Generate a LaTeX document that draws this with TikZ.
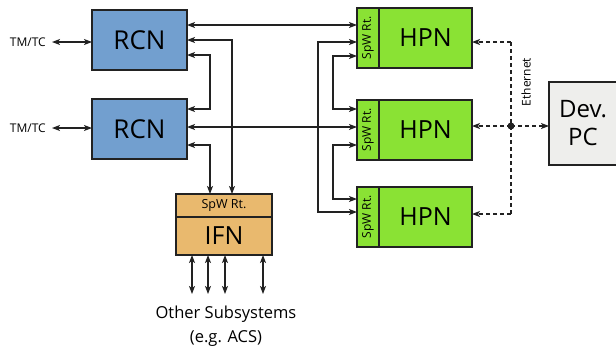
\documentclass[tikz,border=0pt]{standalone}
\usepackage{fontspec}
\setmainfont{Open Sans}
\usetikzlibrary{arrows.meta,calc}

\definecolor{rcnblue}{HTML}{729FCF}
\definecolor{hpngreen}{HTML}{8AE234}
\definecolor{ifnorange}{HTML}{E9B96E}
\definecolor{pcgrey}{HTML}{EEEEEC}
\definecolor{edge}{HTML}{222222}

\tikzset{
  tip/.tip={Stealth[length=8pt,width=6pt,inset=2pt]},
  box/.style={draw=edge, line width=1.3pt, inner sep=0pt, outer sep=0pt},
  rcnbox/.style={box, fill=rcnblue, minimum width=95pt, minimum height=60pt, font=\fontsize{26}{26}\selectfont},
  hpnbox/.style={box, fill=hpngreen, minimum width=93pt, minimum height=60pt, font=\fontsize{25}{25}\selectfont},
  routerstrip/.style={box, fill=hpngreen, minimum width=22pt, minimum height=60pt},
  routerlabel/.style={rotate=90, font=\fontsize{12}{12}\selectfont},
  link/.style={draw=edge, line width=1.2pt, tip-tip},
  eth/.style={draw=edge, line width=1.2pt, dash pattern=on 4pt off 3pt},
  ethto/.style={eth, -tip},
  small/.style={font=\fontsize{12}{12}\selectfont},
}

\begin{document}
\begin{tikzpicture}[x=1pt,y=-1pt]
  \useasboundingbox (0,0) rectangle (616,354);

  % RCN nodes with their TM/TC links
  \node[rcnbox] (rcn1) at (139.5,40) {RCN};
  \node[rcnbox] (rcn2) at (139.5,129) {RCN};
  \node[small, anchor=east, inner sep=0pt] (tm1) at (46,42) {TM/TC};
  \node[small, anchor=east, inner sep=0pt] (tm2) at (46,128) {TM/TC};
  \draw[link] ([xshift=6pt]tm1.east) -- (rcn1.west |- tm1.east);
  \draw[link] ([xshift=6pt]tm2.east) -- (rcn2.west |- tm2.east);

  % HPN nodes, each with a SpaceWire router strip
  \foreach \n/\y in {1/38, 2/130, 3/217}{
    \node[routerstrip] (sw\n) at (368,\y) {};
    \node[routerlabel] at (sw\n) {SpW Rt.};
    \node[hpnbox, anchor=west] (hpn\n) at (sw\n.east) {HPN};
  }

  % IFN with its router header
  \node[box, fill=ifnorange, minimum width=96pt, minimum height=23pt, font=\fontsize{12.5}{12.5}\selectfont] (ifnsw) at (224,205.5) {SpW Rt.};
  \node[box, fill=ifnorange, minimum width=96pt, minimum height=38pt, anchor=north, font=\fontsize{25}{25}\selectfont] (ifn) at (ifnsw.south) {IFN};

  % Development PC
  \node[box, fill=pcgrey, minimum width=68pt, minimum height=83pt, align=center, font=\fontsize{24}{28}\selectfont] (dev) at (583,123.5) {Dev.\\PC};

  % ports on the RCN nodes
  \coordinate (r1a) at ($(rcn1.east)+(0,-15)$);
  \coordinate (r1b) at (rcn1.east);
  \coordinate (r1c) at ($(rcn1.east)+(0,15)$);
  \coordinate (r2a) at ($(rcn2.east)+(0,-20)$);
  \coordinate (r2b) at ($(rcn2.east)+(0,-2)$);
  \coordinate (r2c) at ($(rcn2.east)+(0,16)$);
  % ports on the router strips
  \coordinate (s1a) at ($(sw1.west)+(0,-13)$);
  \coordinate (s1b) at ($(sw1.west)+(0,4)$);
  \coordinate (s1c) at ($(sw1.west)+(0,18)$);
  \coordinate (s2a) at ($(sw2.west)+(0,-21)$);
  \coordinate (s2c) at ($(sw2.west)+(0,15)$);
  \coordinate (s3a) at ($(sw3.west)+(0,-18)$);
  \coordinate (s3b) at ($(sw3.west)+(0,-5)$);
  % Ethernet ports
  \coordinate (e1) at ($(hpn1.east)+(0,4)$);
  \coordinate (e2) at ($(hpn2.east)+(0,-4)$);
  \coordinate (e3) at ($(hpn3.east)+(0,-3)$);

  % routing columns
  \coordinate (cA) at (210,0);
  \coordinate (cB) at (232,0);
  \coordinate (cC) at (318,0);
  \coordinate (cD) at (333,0);
  \coordinate (cE) at (511,0);

  % SpaceWire links
  \draw[link] (r1a) -- (sw1.west |- r1a);
  \draw[link] (r2b) -- (sw2.west |- r2b);
  \draw[link] (r1c) -- (cA |- r1c) -- (cA |- r2a) -- (r2a);
  \draw[link] (r1b) -- (cB |- r1b) -- (cB |- ifnsw.north);
  \draw[link] (r2c) -- (cA |- r2c) -- (cA |- ifnsw.north);
  \draw[link] (s1b) -- (cC |- s1b) -- (cC |- s3b) -- (s3b);
  \draw[link] (s1c) -- (cD |- s1c) -- (cD |- s2a) -- (s2a);
  \draw[link] (s2c) -- (cD |- s2c) -- (cD |- s3a) -- (s3a);

  % Ethernet
  \coordinate (hub) at (cE |- e2);
  \draw[ethto] (cE |- e1) -- (e1);
  \draw[eth] (cE |- e1) -- (cE |- e3);
  \draw[ethto] (cE |- e3) -- (e3);
  \draw[ethto] (hub) -- (e2);
  \draw[ethto] (hub) -- (dev.west |- hub);
  \fill[edge] (hub) circle (3.5pt);
  \node[small, rotate=90] (ethlabel) at (526,82) {Ethernet};

  % links to the other subsystems
  \foreach \dx in {-32,-16,1,39}{
    \draw[link] ($(ifn.south)+(\dx,0)$) -- ($(ifn.south)+(\dx,39)$);
  }
  \node[align=center, font=\fontsize{16.5}{24}\selectfont] (others) at (226,326) {Other Subsystems\\(e.g. ACS)};
\end{tikzpicture}
\end{document}
